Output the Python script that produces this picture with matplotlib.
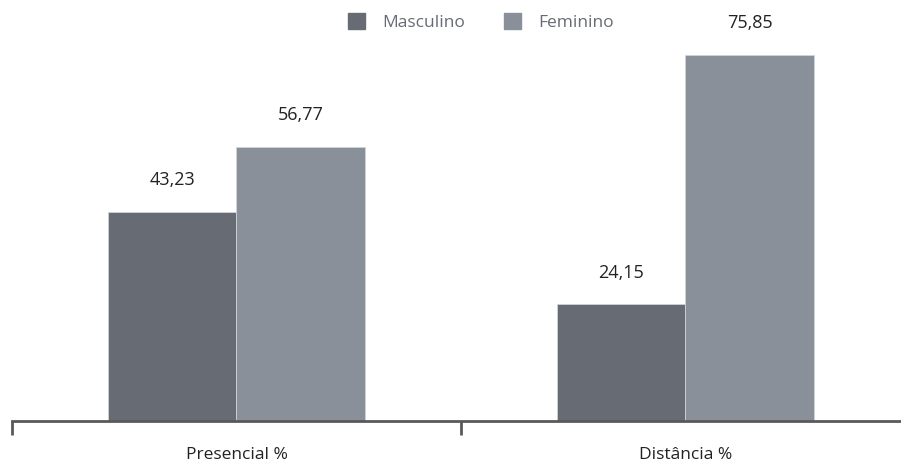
import matplotlib
matplotlib.use('Agg')
import matplotlib.pyplot as plt
from matplotlib.patches import Patch
import numpy as np

plt.rcParams['font.family'] = ['Open Sans', 'DejaVu Sans']

categories = ['Presencial %', 'Distância %']
masculino = [43.23, 24.15]
feminino = [56.77, 75.85]
series_names = ['Masculino', 'Feminino']
colors = ['#666b74', '#8a9099']

fig = plt.figure(figsize=(9.01, 4.68), dpi=100)
ax = fig.add_axes([12 / 901, (468 - 421) / 468, 898 / 901, 421 / 468])

x = np.arange(len(categories))
w = 0.2857
b1 = ax.bar(x - w / 2, masculino, w, color=colors[0], edgecolor='#d0d3d7', lw=0.6, zorder=2)
b2 = ax.bar(x + w / 2, feminino, w, color=colors[1], edgecolor='#d0d3d7', lw=0.6, zorder=2)

for bars, vals in ((b1, masculino), (b2, feminino)):
    for bar, v in zip(bars, vals):
        ax.text(bar.get_x() + bar.get_width() / 2, v + 6.6, f'{v:.2f}'.replace('.', ','),
                ha='center', va='center', fontsize=13, color='#222222')

ax.set_xlim(-0.5, 1.5)
ax.set_ylim(0, 87.2)
for s in ('top', 'right', 'left'):
    ax.spines[s].set_visible(False)
ax.spines['bottom'].set_color('#595959')
ax.spines['bottom'].set_linewidth(2)
ax.set_yticks([])
ax.set_xticks([-0.5, 0.5, 1.5])
ax.set_xticklabels([])
ax.tick_params(axis='x', length=10, width=2, color='#595959')
for xi, lab in zip(x, categories):
    ax.text(xi, -7.0, lab, ha='center', va='center', fontsize=12.5, color='#222222')

handles = [Patch(color=c, label=n) for c, n in zip(colors, series_names)]
leg = fig.legend(handles=handles, loc='center', bbox_to_anchor=(481 / 901, 1 - 22 / 468),
                 ncol=2, frameon=False, fontsize=12.5, handlelength=1.0, handleheight=1.0,
                 columnspacing=2.2, handletextpad=1.0)
for t in leg.get_texts():
    t.set_color('#666b74')

fig.savefig('out.png', dpi=100)
